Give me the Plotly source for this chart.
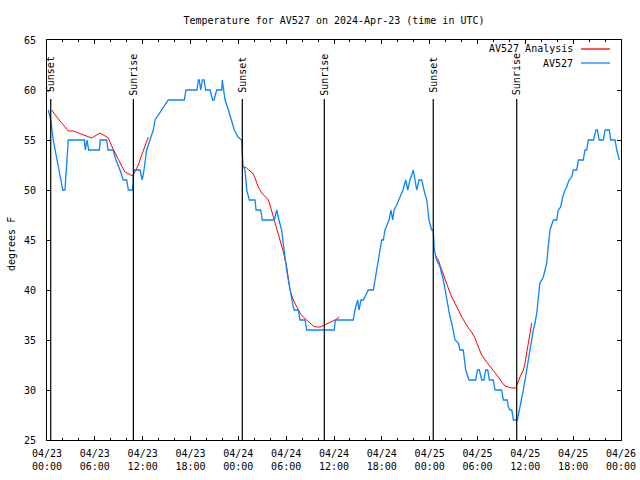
import plotly.graph_objects as go
import pandas as pd

YEAR = "2024-"

obs_time = [
    "04-23 00:10", "04-23 00:28", "04-23 00:47", "04-23 01:13", "04-23 01:30", "04-23 01:45",
    "04-23 01:58", "04-23 02:15", "04-23 02:23", "04-23 02:33", "04-23 02:40", "04-23 04:41",
    "04-23 04:48", "04-23 05:01", "04-23 05:14", "04-23 06:34", "04-23 06:41", "04-23 07:29",
    "04-23 07:39", "04-23 08:17", "04-23 08:39", "04-23 09:09", "04-23 09:34", "04-23 10:00",
    "04-23 10:12", "04-23 10:45", "04-23 10:53", "04-23 11:40", "04-23 11:57", "04-23 12:10",
    "04-23 12:30", "04-23 12:55", "04-23 13:20", "04-23 13:33", "04-23 14:23", "04-23 15:13",
    "04-23 17:13", "04-23 17:26", "04-23 18:49", "04-23 18:59", "04-23 19:06", "04-23 19:17",
    "04-23 19:29", "04-23 19:42", "04-23 19:54", "04-23 20:27", "04-23 20:47", "04-23 20:57",
    "04-23 21:17", "04-23 21:55", "04-23 21:59", "04-23 22:20", "04-23 22:45", "04-23 23:10",
    "04-23 23:30", "04-23 23:58", "04-24 00:25", "04-24 00:35", "04-24 00:50", "04-24 01:03",
    "04-24 01:23", "04-24 02:06", "04-24 02:13", "04-24 02:48", "04-24 03:00", "04-24 04:31",
    "04-24 04:49", "04-24 05:06", "04-24 05:26", "04-24 05:39", "04-24 05:51", "04-24 06:04",
    "04-24 06:16", "04-24 06:29", "04-24 06:42", "04-24 06:54", "04-24 07:01", "04-24 07:31",
    "04-24 07:44", "04-24 08:22", "04-24 08:35", "04-24 12:02", "04-24 12:10", "04-24 14:25",
    "04-24 14:38", "04-24 14:58", "04-24 15:08", "04-24 15:23", "04-24 15:41", "04-24 16:18",
    "04-24 16:56", "04-24 17:21", "04-24 17:33", "04-24 17:46", "04-24 17:59", "04-24 18:11",
    "04-24 18:24", "04-24 18:54", "04-24 19:09", "04-24 19:22", "04-24 19:32", "04-24 19:52",
    "04-24 20:09", "04-24 20:30", "04-24 20:39", "04-24 21:00", "04-24 21:15", "04-24 21:32",
    "04-24 21:57", "04-24 22:10", "04-24 22:22", "04-24 22:40", "04-24 23:00", "04-24 23:17",
    "04-24 23:38", "04-24 23:55", "04-25 00:15", "04-25 00:27", "04-25 00:35", "04-25 00:53",
    "04-25 01:18", "04-25 01:43", "04-25 01:55", "04-25 02:08", "04-25 02:20", "04-25 02:33",
    "04-25 02:46", "04-25 02:58", "04-25 03:11", "04-25 03:36", "04-25 03:48", "04-25 04:13",
    "04-25 04:21", "04-25 04:31", "04-25 04:56", "04-25 05:47", "04-25 05:59", "04-25 06:14",
    "04-25 06:32", "04-25 06:49", "04-25 07:02", "04-25 07:17", "04-25 07:29", "04-25 07:59",
    "04-25 08:12", "04-25 09:02", "04-25 09:14", "04-25 09:44", "04-25 09:52", "04-25 10:05",
    "04-25 10:18", "04-25 10:30", "04-25 11:00", "04-25 11:20", "04-25 11:33", "04-25 11:45",
    "04-25 11:58", "04-25 12:10", "04-25 12:22", "04-25 12:35", "04-25 12:48", "04-25 13:00",
    "04-25 13:13", "04-25 13:26", "04-25 13:38", "04-25 13:50", "04-25 14:03", "04-25 14:15",
    "04-25 14:28", "04-25 14:41", "04-25 14:53", "04-25 15:06", "04-25 15:18", "04-25 15:31",
    "04-25 15:56", "04-25 16:08", "04-25 16:26", "04-25 16:41", "04-25 16:59", "04-25 17:11",
    "04-25 17:29", "04-25 17:49", "04-25 18:01", "04-25 18:27", "04-25 18:39", "04-25 19:16",
    "04-25 19:29", "04-25 19:42", "04-25 19:54", "04-25 20:32", "04-25 20:52", "04-25 21:02",
    "04-25 21:15", "04-25 21:47", "04-25 22:00", "04-25 22:32", "04-25 22:43", "04-25 23:15",
    "04-25 23:28", "04-25 23:47",
]
obs_temp = [
    58, 57, 55, 53, 52, 51,
    50, 50, 52, 54, 55, 55,
    54, 55, 54, 54, 55, 55,
    54, 54, 53, 52, 51, 51,
    50, 50, 52, 52, 51, 52,
    54, 55, 56, 57, 58, 59,
    59, 60, 60, 61, 61, 60,
    61, 61, 60, 60, 59, 59,
    60, 60, 61, 59, 58, 57,
    56, 55.3, 55, 52.5, 52, 50,
    49, 49, 48, 48, 47, 47,
    48, 47, 46, 44.5, 43, 42,
    41, 40, 39, 38.3, 38, 38,
    37, 37, 36, 36, 37, 37,
    38, 39, 38, 39, 39, 40,
    40, 42, 43, 44, 45, 45,
    46, 47, 48, 47, 48, 48.5,
    49, 49.7, 50, 51, 50, 51,
    52, 51, 50, 51, 51, 50,
    49, 47, 46, 46, 44, 43,
    42.3, 41, 40, 39, 38, 37.3,
    36.7, 35.7, 35, 34.7, 34, 34,
    32.7, 32, 31, 31, 32, 32,
    31, 31, 32, 32, 31, 31,
    30, 30, 29, 29, 28.3, 28,
    28, 27, 27, 28.3, 29, 30,
    31, 32, 33, 34, 35, 36,
    36.7, 37.7, 39.3, 40.7, 41, 41.3,
    42, 42.7, 44.5, 46, 46.5, 47,
    47, 48, 48.3, 49.3, 50, 50.3,
    51, 51.3, 52, 52, 53, 53,
    54, 54, 55, 55, 56, 56,
    55, 55, 56, 56, 55, 55,
    54, 53,
]

ana1_time = [
    "04-23 00:35", "04-23 01:00", "04-23 01:25", "04-23 01:51", "04-23 02:15", "04-23 02:40",
    "04-23 03:18", "04-23 03:56", "04-23 04:33", "04-23 05:11", "04-23 05:36", "04-23 06:01",
    "04-23 06:39", "04-23 07:17", "04-23 07:41", "04-23 08:07", "04-23 08:32", "04-23 08:57",
    "04-23 09:22", "04-23 09:47", "04-23 10:12", "04-23 10:45", "04-23 11:02", "04-23 11:27",
    "04-23 11:53", "04-23 12:18", "04-23 12:42",
]
ana1_temp = [
    58, 57.5, 57.1, 56.7, 56.3, 55.9,
    55.9, 55.7, 55.5, 55.3, 55.2, 55.4,
    55.7, 55.4, 55.2, 54.4, 53.7, 53.1,
    52.4, 51.8, 51.6, 51.4, 51.8, 52.5,
    53.5, 54.5, 55.3,
]
ana2_time = [
    "04-24 00:43", "04-24 01:03", "04-24 01:28", "04-24 01:48", "04-24 02:06", "04-24 02:30",
    "04-24 02:56", "04-24 03:21", "04-24 03:46", "04-24 03:58", "04-24 04:23", "04-24 04:49",
    "04-24 05:14", "04-24 05:39", "04-24 06:04", "04-24 06:29", "04-24 06:54", "04-24 07:19",
    "04-24 07:44", "04-24 08:09", "04-24 08:47", "04-24 09:24", "04-24 09:50", "04-24 10:15",
    "04-24 10:47", "04-24 11:17", "04-24 11:43", "04-24 12:08", "04-24 12:40",
]
ana2_temp = [
    52.3, 52.2, 51.9, 51.7, 51.2, 50.3,
    49.7, 49.4, 49, 48.5, 47.3, 46.2,
    45, 43.8, 42.3, 40, 39, 38.3,
    37.7, 37.3, 36.8, 36.4, 36.3, 36.3,
    36.5, 36.7, 36.8, 37, 37.3,
]
ana3_time = [
    "04-25 00:40", "04-25 01:05", "04-25 01:31", "04-25 01:55", "04-25 02:20", "04-25 02:46",
    "04-25 03:11", "04-25 03:36", "04-25 04:01", "04-25 04:26", "04-25 04:51", "04-25 05:16",
    "04-25 05:41", "04-25 06:06", "04-25 06:32", "04-25 06:57", "04-25 07:21", "04-25 07:47",
    "04-25 08:12", "04-25 08:37", "04-25 09:02", "04-25 09:27", "04-25 09:52", "04-25 10:18",
    "04-25 10:48", "04-25 11:00", "04-25 11:20", "04-25 11:45", "04-25 11:58", "04-25 12:10",
    "04-25 12:22", "04-25 12:35", "04-25 12:48",
]
ana3_temp = [
    43.5, 43, 42, 41, 40.2, 39.3,
    38.7, 38, 37.3, 36.7, 36.2, 35.8,
    35.2, 34.3, 33.5, 33, 32.6, 32.2,
    31.7, 31.3, 30.8, 30.4, 30.3, 30.2,
    30.2, 30.7, 31.3, 32, 32.7, 33.7,
    34.7, 35.8, 36.7,
]

sun_time = ["04-23 00:28", "04-23 10:50", "04-24 00:30", "04-24 10:47", "04-25 00:27", "04-25 10:55"]
sun_label = ["Sunset", "Sunrise", "Sunset", "Sunrise", "Sunset", "Sunrise"]

x_ticks = ["04-23 00:00", "04-23 06:00", "04-23 12:00", "04-23 18:00", "04-24 00:00", "04-24 06:00",
           "04-24 12:00", "04-24 18:00", "04-25 00:00", "04-25 06:00", "04-25 12:00", "04-25 18:00",
           "04-26 00:00"]
y_ticks = [25, 30, 35, 40, 45, 50, 55, 60, 65]


def ts(lst):
    return [pd.Timestamp(YEAR + s) for s in lst]


ana_x, ana_y = [], []
for tl, vl in [(ana1_time, ana1_temp), (ana2_time, ana2_temp), (ana3_time, ana3_temp)]:
    ana_x += ts(tl) + [None]
    ana_y += list(vl) + [None]

FONT = "DejaVu Sans Mono"
RED = "#ff0000"
BLUE = "#0a84ff"

fig = go.Figure()
fig.add_trace(go.Scatter(x=ana_x, y=ana_y, mode="lines", name="AV527 Analysis",
                         line=dict(color=RED, width=1), connectgaps=False, showlegend=False))
fig.add_trace(go.Scatter(x=ts(obs_time), y=obs_temp, mode="lines", name="AV527",
                         line=dict(color=BLUE, width=1.3), showlegend=False))

# sunrise / sunset markers
for t, lab in zip(ts(sun_time), sun_label):
    fig.add_shape(type="line", xref="x", yref="y", x0=t, x1=t, y0=25, y1=59.1,
                  line=dict(color="black", width=1.2), layer="above")
    fig.add_annotation(x=t, y=61.55, xref="x", yref="y", text=lab, textangle=-90,
                       showarrow=False, font=dict(family=FONT, size=10, color="black"),
                       xanchor="center", yanchor="middle")

# gnuplot-style key (text right aligned, sample on the right)
W = 574.0
H = 400.0
key = [("AV527 Analysis", RED, 49), ("AV527", BLUE, 63)]
for name, col, py in key:
    yp = (440 - py) / H
    fig.add_annotation(x=(575 - 47) / W, y=yp, xref="paper", yref="paper", text=name,
                       showarrow=False, xanchor="right", yanchor="middle",
                       font=dict(family=FONT, size=10, color="black"))
    fig.add_shape(type="line", xref="paper", yref="paper", x0=(581 - 47) / W, x1=(610 - 47) / W,
                  y0=yp, y1=yp, line=dict(color=col, width=1.3))

fig.add_annotation(x=(11 - 47) / W, y=0.49, xref="paper", yref="paper", text="degrees F",
                   textangle=-90, showarrow=False, xanchor="center", yanchor="middle",
                   font=dict(family=FONT, size=10, color="black"))

xt = ts(x_ticks)
fig.update_layout(
    width=640, height=480,
    margin=dict(l=47, r=19, t=40, b=40, autoexpand=False),
    paper_bgcolor="white", plot_bgcolor="white",
    title=dict(text="Temperature for AV527 on 2024-Apr-23 (time in UTC)", x=0.5, xref="paper",
               xanchor="center", y=1 - 20 / 480, yref="container", yanchor="middle",
               font=dict(family=FONT, size=10, color="black")),
    font=dict(family=FONT, size=10, color="black"),
)
fig.update_xaxes(
    range=[xt[0], xt[-1]], tickvals=xt, automargin=False,
    ticktext=[t.strftime("%m/%d<br>%H:%M") for t in xt],
    ticks="inside", ticklen=4, tickcolor="black", tickwidth=1,
    minor=dict(dtick=2 * 3600 * 1000, tick0=xt[0], ticks="inside", ticklen=2, tickcolor="black"),
    showline=True, linecolor="black", linewidth=1, mirror="allticks",
    showgrid=False, zeroline=False, ticklabelstandoff=4,
    tickfont=dict(family=FONT, size=10, color="black"),
)
fig.update_yaxes(
    range=[25, 65], tickvals=y_ticks, ticktext=[str(v) for v in y_ticks], automargin=False,
    ticks="inside", ticklen=4, tickcolor="black", tickwidth=1,
    showline=True, linecolor="black", linewidth=1, mirror="allticks",
    showgrid=False, zeroline=False, ticklabelstandoff=8,
    tickfont=dict(family=FONT, size=10, color="black"),
)

fig.write_html(
    "out.html",
    config={"displayModeBar": False},
    post_script=(
        "document.documentElement.style.margin='0';document.documentElement.style.padding='0';"
        "document.documentElement.style.overflow='hidden';"
        "document.body.style.margin='0';document.body.style.padding='0';"
        "document.body.style.overflow='hidden';"
    ),
)
